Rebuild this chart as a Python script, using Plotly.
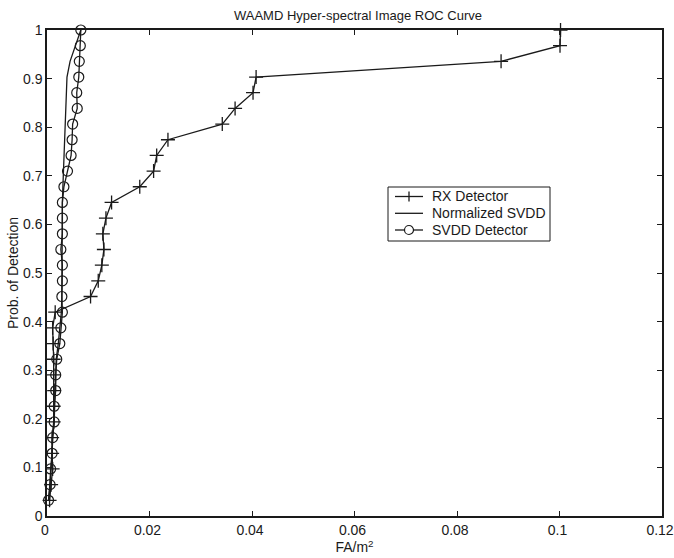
import plotly.graph_objects as go

# Detection probabilities (31 equal steps)
pd_levels = [1, 2, 3, 4, 5, 6, 7, 8, 9, 10, 11, 12, 13, 14, 15, 16, 17, 18, 19, 20,
             21, 22, 23, 24, 25, 26, 27, 28, 29, 30, 31]
pd_values = [k / 31 for k in pd_levels]

rx_fa = [0.0005, 0.0008, 0.0011, 0.0010, 0.0010, 0.0013, 0.0013, 0.0014, 0.0013, 0.0013,
         0.0012, 0.0011, 0.0016, 0.0085, 0.0100, 0.0107, 0.0111, 0.0109, 0.0115, 0.0126,
         0.0181, 0.0208, 0.0214, 0.0236, 0.0342, 0.0367, 0.0402, 0.0408, 0.0886, 0.1001,
         0.1002]

nsvdd_fa = [0.0003, 0.0006, 0.0008, 0.0010, 0.0011, 0.0014, 0.0015, 0.0016, 0.0017, 0.0018,
            0.0022, 0.0025, 0.0028, 0.0029, 0.0029, 0.0029, 0.0030, 0.0030, 0.0030, 0.0030,
            0.0031, 0.0032, 0.0033, 0.0034, 0.0035, 0.0036, 0.0037, 0.0039, 0.0045, 0.0055,
            0.0066]

svdd_fa = [0.0003, 0.0006, 0.0007, 0.0010, 0.0011, 0.0014, 0.0014, 0.0017, 0.0017, 0.0019,
           0.0025, 0.0027, 0.0030, 0.0029, 0.0030, 0.0030, 0.0027, 0.0030, 0.0030, 0.0030,
           0.0033, 0.0040, 0.0047, 0.0049, 0.0050, 0.0059, 0.0058, 0.0062, 0.0063, 0.0065,
           0.0066]

x_ticks = [0, 0.02, 0.04, 0.06, 0.08, 0.1, 0.12]
x_tick_text = ["0", "0.02", "0.04", "0.06", "0.08", "0.1", "0.12"]
y_ticks = [0, 0.1, 0.2, 0.3, 0.4, 0.5, 0.6, 0.7, 0.8, 0.9, 1]
y_tick_text = ["0", "0.1", "0.2", "0.3", "0.4", "0.5", "0.6", "0.7", "0.8", "0.9", "1"]

legend_names = ["RX Detector", "Normalized SVDD", "SVDD Detector"]
legend_symbols = ["cross", "none", "circle"]

ink = "#1a1a1a"
font_family = "Liberation Sans, Arial, sans-serif"

# Body margin is removed by post_script, so the figure fills the window
OFF = 0
W, H = 674, 558
ML, MT = 47, 30
PW, PH = 615, 486
MR, MB = W - ML - PW, H - MT - PH

fig = go.Figure()
fig.add_trace(go.Scatter(
    x=rx_fa, y=pd_values, name=legend_names[0], mode="lines+markers",
    line=dict(color=ink, width=1.3),
    marker=dict(symbol="cross-thin", size=10, line=dict(color=ink, width=1.3)),
    cliponaxis=False, showlegend=False,
))
fig.add_trace(go.Scatter(
    x=nsvdd_fa, y=pd_values, name=legend_names[1], mode="lines",
    line=dict(color=ink, width=1.3),
    cliponaxis=False, showlegend=False,
))
fig.add_trace(go.Scatter(
    x=svdd_fa, y=pd_values, name=legend_names[2], mode="lines+markers",
    line=dict(color=ink, width=1.3),
    marker=dict(symbol="circle-open", size=10, color=ink, line=dict(color=ink, width=1.2)),
    cliponaxis=False, showlegend=False,
))

# Legend box: page-pixel layout converted to paper coordinates
def px_x(p):
    return (p - OFF - ML) / PW

def px_y(p):
    return (MT + PH - (p - OFF)) / PH

shapes = [dict(type="rect", xref="paper", yref="paper",
               x0=px_x(388), x1=px_x(550), y0=px_y(241), y1=px_y(187),
               line=dict(color=ink, width=1), fillcolor="white", layer="above")]
annotations = []
row_px = [196.5, 213.3, 230]
for name, sym, ry in zip(legend_names, legend_symbols, row_px):
    yy = px_y(ry)
    shapes.append(dict(type="line", xref="paper", yref="paper",
                       x0=px_x(395), x1=px_x(423), y0=yy, y1=yy,
                       line=dict(color=ink, width=1.3), layer="above"))
    cx = 409
    if sym == "cross":
        shapes.append(dict(type="line", xref="paper", yref="paper",
                           x0=px_x(cx), x1=px_x(cx), y0=px_y(ry - 5), y1=px_y(ry + 5),
                           line=dict(color=ink, width=1.3), layer="above"))
    elif sym == "circle":
        shapes.append(dict(type="circle", xref="paper", yref="paper",
                           x0=px_x(cx - 4.5), x1=px_x(cx + 4.5),
                           y0=px_y(ry + 4.5), y1=px_y(ry - 4.5),
                           line=dict(color=ink, width=1.2), fillcolor="white", layer="above"))
    annotations.append(dict(text=name, xref="paper", yref="paper",
                            x=px_x(430), y=yy, xanchor="left", yanchor="middle",
                            showarrow=False,
                            font=dict(family=font_family, size=14, color=ink)))

axis_common = dict(
    showgrid=False, zeroline=False, showline=True, linecolor=ink, linewidth=1.5,
    mirror="ticks", ticks="inside", ticklen=5, tickcolor=ink, tickwidth=1,
    tickfont=dict(family=font_family, size=14, color=ink), automargin=False,
    ticklabeloverflow="allow",
)

fig.update_layout(
    width=W, height=H,
    margin=dict(l=ML, r=MR, t=MT, b=MB),
    paper_bgcolor="white", plot_bgcolor="white",
    title=dict(text="WAAMD Hyper-spectral Image ROC Curve", x=358 / W,
               xanchor="center", xref="container", yref="container",
               y=1 - 11 / H, yanchor="top",
               font=dict(family=font_family, size=13, color=ink)),
    xaxis=dict(range=[0, 0.12], tickvals=x_ticks, ticktext=x_tick_text,
               ticklabelshift=-2,
               title=dict(text="FA/m<sup>2</sup>", standoff=3,
                          font=dict(family=font_family, size=14, color=ink)),
               **axis_common),
    yaxis=dict(range=[0, 1], tickvals=y_ticks, ticktext=y_tick_text,
               title=dict(text="Prob. of Detection", standoff=1,
                          font=dict(family=font_family, size=14, color=ink)),
               **axis_common),
    shapes=shapes,
    annotations=annotations,
    showlegend=False,
)

fig.write_html(
    "out.html",
    config={"displayModeBar": False},
    post_script="document.body.style.margin='0';document.body.style.overflow='hidden';",
)
